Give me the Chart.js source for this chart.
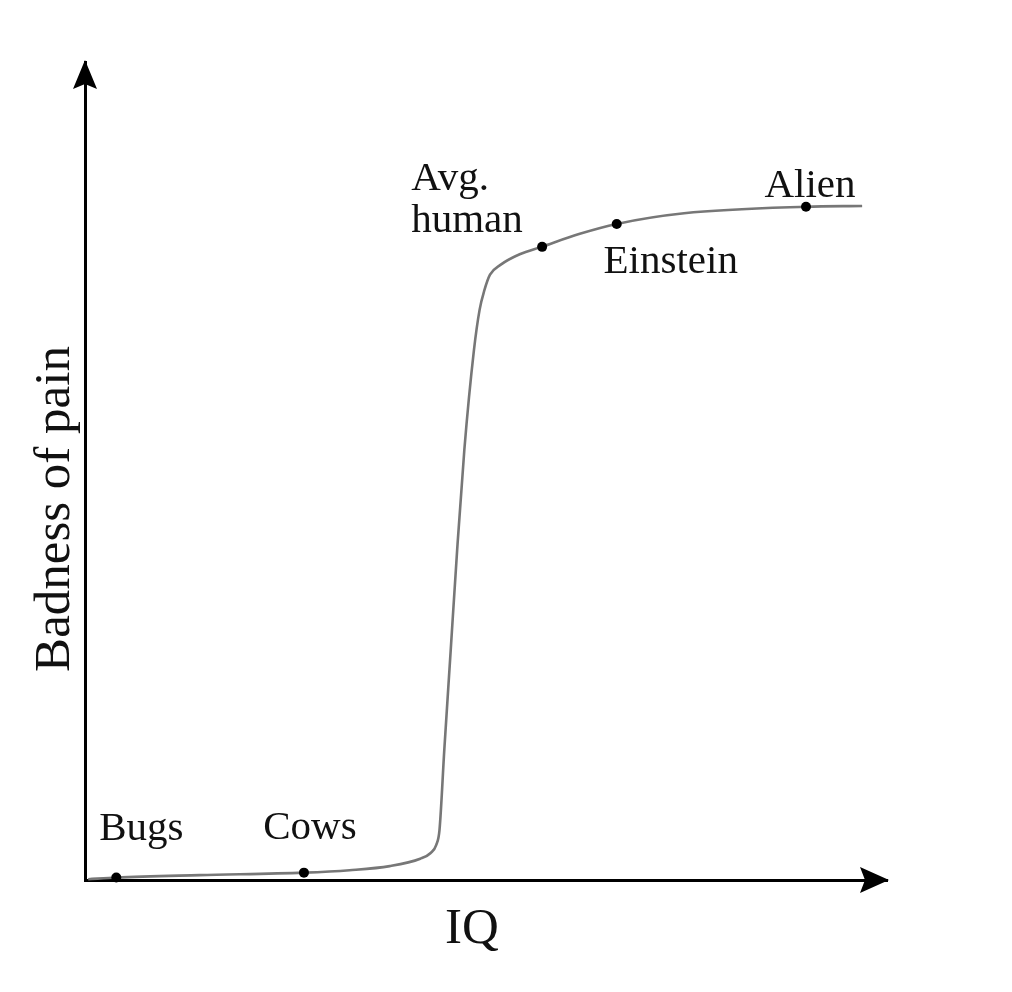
<!DOCTYPE html>
<html>
<head>
<meta charset="utf-8">
<script src="https://cdn.jsdelivr.net/npm/chart.js@4/dist/chart.umd.min.js"></script>
<style>
  html, body { margin: 0; padding: 0; background: #fff; }
  #wrap { width: 1012px; height: 992px; }
</style>
</head>
<body>
<div id="wrap"><canvas id="chart"></canvas></div>
<script>
// curve (IQ 0..100, pain 0..100)
const curveIQ   = [0.4, 3.9, 14.3, 27.3, 33.0, 38.0, 41.8, 43.1, 43.8, 44.2, 44.8, 45.6, 46.4, 47.3, 48.5, 49.2, 49.8, 50.5, 51.8, 54.2, 56.9, 61.7, 66.3, 74.7, 89.9, 96.9];
const curvePain = [0.1, 0.3, 0.6, 0.9, 1.2, 1.7, 2.6, 3.3, 4.3, 6.1, 15.9, 28.1, 40.3, 52.6, 64.8, 69.7, 72.1, 74.0, 75.2, 76.5, 77.4, 79.0, 80.2, 81.5, 82.3, 82.4];

// labelled beings
const beings     = ['Bugs', 'Cows', 'Avg.\nhuman', 'Einstein', 'Alien'];
const beingIQ    = [3.9, 27.3, 57.0, 66.3, 89.9];
const beingPain  = [0.3, 0.9, 77.4, 80.2, 82.3];

const xTitle = 'IQ';
const yTitle = 'Badness of pain';

// label placement relative to each dot (px)
const labelOffsets = [
  { dx: 25, dy: -38, align: 'center' },
  { dx: 6, dy: -34, align: 'center' },
  { dx: -131, dy: -57, align: 'left' },
  { dx: 54, dy: 49, align: 'center' },
  { dx: 4, dy: -10, align: 'center' }
];

const serif = '"Liberation Serif", "Times New Roman", serif';

const decor = {
  id: 'decor',
  afterDraw(chart) {
    const ctx = chart.ctx;
    const a = chart.chartArea;
    ctx.save();
    ctx.fillStyle = '#000';
    // y arrow
    ctx.beginPath();
    ctx.moveTo(a.left, a.top - 2);
    ctx.lineTo(a.left - 12, a.top + 27);
    ctx.lineTo(a.left, a.top + 22);
    ctx.lineTo(a.left + 12, a.top + 27);
    ctx.closePath();
    ctx.fill();
    // x arrow
    ctx.beginPath();
    ctx.moveTo(a.right + 2, a.bottom);
    ctx.lineTo(a.right - 27, a.bottom - 13);
    ctx.lineTo(a.right - 22, a.bottom);
    ctx.lineTo(a.right - 27, a.bottom + 13);
    ctx.closePath();
    ctx.fill();

    // axis titles
    ctx.fillStyle = '#111';
    ctx.font = '51px ' + serif;
    ctx.textAlign = 'center';
    ctx.textBaseline = 'alphabetic';
    ctx.fillText(xTitle, 472, 943);
    ctx.save();
    ctx.translate(69, 509);
    ctx.rotate(-Math.PI / 2);
    ctx.fillText(yTitle, 0, 0);
    ctx.restore();

    // point labels
    const meta = chart.getDatasetMeta(1);
    ctx.font = '41px ' + serif;
    meta.data.forEach((pt, i) => {
      const o = labelOffsets[i];
      ctx.textAlign = o.align;
      beings[i].split('\n').forEach((line, k) => {
        ctx.fillText(line, pt.x + o.dx, pt.y + o.dy + k * 42);
      });
    });
    ctx.restore();
  }
};

new Chart(document.getElementById('chart'), {
  type: 'scatter',
  data: {
    datasets: [
      {
        data: curveIQ.map((x, i) => ({ x, y: curvePain[i] })),
        showLine: true,
        borderColor: '#777',
        borderWidth: 2.6,
        pointRadius: 0,
        cubicInterpolationMode: 'monotone',
        clip: false,
        order: 2
      },
      {
        data: beingIQ.map((x, i) => ({ x, y: beingPain[i] })),
        pointRadius: 5,
        pointBackgroundColor: '#000',
        pointBorderColor: '#000',
        pointBorderWidth: 0,
        clip: false,
        order: 1
      }
    ]
  },
  options: {
    responsive: true,
    maintainAspectRatio: false,
    animation: false,
    layout: { padding: { left: 85, top: 62, right: 125, bottom: 112 } },
    plugins: { legend: { display: false }, tooltip: { enabled: false } },
    scales: {
      x: {
        type: 'linear', min: 0, max: 100,
        ticks: { display: false },
        grid: { display: false },
        border: { display: true, color: '#000', width: 3 },
        afterFit(s) { s.height = 0; }
      },
      y: {
        type: 'linear', min: 0, max: 100,
        ticks: { display: false },
        grid: { display: false },
        border: { display: true, color: '#000', width: 3 },
        afterFit(s) { s.width = 0; }
      }
    }
  },
  plugins: [decor]
});
</script>
</body>
</html>
